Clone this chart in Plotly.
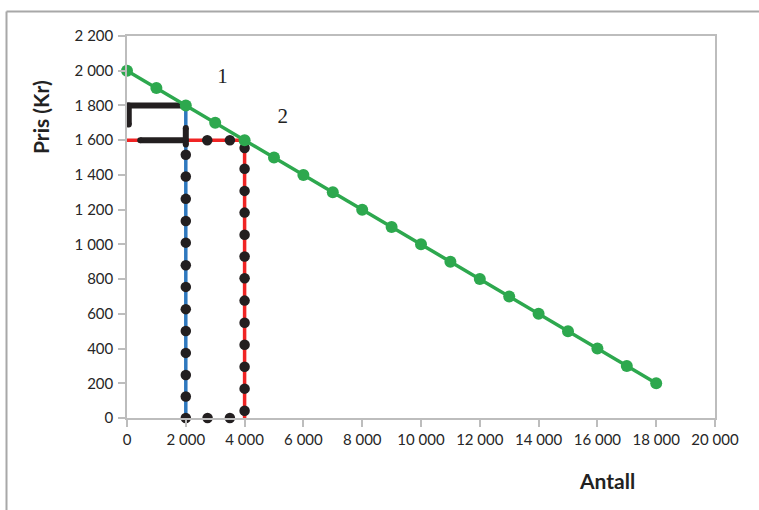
import plotly.graph_objects as go

# Demand line (price vs quantity)
antall = [0, 1000, 2000, 3000, 4000, 5000, 6000, 7000, 8000, 9000,
          10000, 11000, 12000, 13000, 14000, 15000, 16000, 17000, 18000]
pris = [2000, 1900, 1800, 1700, 1600, 1500, 1400, 1300, 1200, 1100,
        1000, 900, 800, 700, 600, 500, 400, 300, 200]

# Point 1 guide (blue) and point 2 guide (red)
blue_x = [2000, 2000]
blue_y = [0, 1800]
red_x = [0, 4000, 4000]
red_y = [1600, 1600, 0]

# Black bracket and thick segments
bracket_x = [60, 60, 1950]
bracket_y = [1690, 1800, 1800]
seg_h_x = [450, 2000]
seg_h_y = [1600, 1600]
seg_v_x = [2000, 2000]
seg_v_y = [1575, 1670]

# Black dots
dot_blue_x = [2000] * 13
dot_blue_y = [0, 124, 248, 375, 501, 627, 755, 880, 1010, 1135, 1262, 1391, 1516]
dot_red_x = [4000] * 13
dot_red_y = [42, 169, 295, 422, 549, 676, 805, 930, 1055, 1183, 1308, 1435, 1555]
dot_top_x = [2730, 3500]
dot_top_y = [1600, 1600]
dot_bot_x = [2740, 3500]
dot_bot_y = [0, 0]

labels_text = ["1", "2"]
labels_x = [3250, 5300]
labels_y = [1960, 1730]

x_ticks = [0, 2000, 4000, 6000, 8000, 10000, 12000, 14000, 16000, 18000, 20000]
y_ticks = [0, 200, 400, 600, 800, 1000, 1200, 1400, 1600, 1800, 2000, 2200]

GREEN = "#2DA84E"
BLUE = "#2E78BE"
RED = "#F02424"
BLACK = "#231F20"

fig = go.Figure()
fig.add_trace(go.Scatter(x=red_x, y=red_y, mode="lines",
                         line=dict(color=RED, width=3.5), hoverinfo="skip"))
fig.add_trace(go.Scatter(x=blue_x, y=blue_y, mode="lines",
                         line=dict(color=BLUE, width=3.5), hoverinfo="skip"))
for xs, ys in [(bracket_x, bracket_y), (seg_h_x, seg_h_y), (seg_v_x, seg_v_y)]:
    fig.add_trace(go.Scatter(x=xs, y=ys, mode="lines+markers",
                             line=dict(color=BLACK, width=6),
                             marker=dict(color=BLACK, size=6), hoverinfo="skip"))
for xs, ys in [(dot_blue_x, dot_blue_y), (dot_red_x, dot_red_y),
               (dot_top_x, dot_top_y), (dot_bot_x, dot_bot_y)]:
    fig.add_trace(go.Scatter(x=xs, y=ys, mode="markers",
                             marker=dict(color=BLACK, size=10.5), cliponaxis=False,
                             hoverinfo="skip"))
fig.add_trace(go.Scatter(x=antall, y=pris, mode="lines+markers",
                         line=dict(color=GREEN, width=3.5),
                         marker=dict(color=GREEN, size=12), cliponaxis=False))
fig.add_trace(go.Scatter(x=labels_x, y=labels_y, mode="text", text=labels_text,
                         textfont=dict(family="Liberation Serif", size=21, color="#222"),
                         hoverinfo="skip"))

axis_common = dict(showgrid=False, zeroline=False, showline=True, linecolor="#BDBDBD",
                   linewidth=1.5, mirror=True, ticks="outside", tickcolor="#BDBDBD",
                   ticklen=7, tickwidth=1.5,
                   tickfont=dict(family="Lato", size=15, color="#262626"))

fig.update_xaxes(range=[0, 20000], tickvals=x_ticks, tickformat=",d", **axis_common)
fig.update_yaxes(range=[0, 2200], tickvals=y_ticks, tickformat=",d",
                 ticklabelstandoff=2, **axis_common)

W, H = 759, 510
L, R, T, B = 127, 44, 36, 92
pw, ph = W - L - R, H - T - B

def px(x):
    return (x - L) / pw

def py(y):
    return (H - B - y) / ph

fig.update_layout(
    width=W, height=H, autosize=False,
    margin=dict(l=L, r=R, t=T, b=B, pad=0),
    paper_bgcolor="white", plot_bgcolor="white",
    separators=", ",
    showlegend=False,
    shapes=[
        dict(type="line", xref="paper", yref="paper", x0=px(6.5), x1=px(759), y0=py(11.5), y1=py(11.5),
             line=dict(color="#A8A8A8", width=2)),
        dict(type="line", xref="paper", yref="paper", x0=px(6.5), x1=px(6.5), y0=py(11.5), y1=py(510),
             line=dict(color="#A8A8A8", width=2)),
    ],
    annotations=[
        dict(text="<b>Antall</b>", xref="paper", yref="paper", x=px(607), y=py(480),
             showarrow=False, font=dict(family="Lato", size=21, color="#222"),
             xanchor="center", yanchor="middle"),
        dict(text="<b>Pris (Kr)</b>", xref="paper", yref="paper", x=px(41), y=py(117),
             showarrow=False, textangle=-90, font=dict(family="Lato", size=21, color="#222"),
             xanchor="center", yanchor="middle"),
    ],
)

fig.write_html("out.html")
